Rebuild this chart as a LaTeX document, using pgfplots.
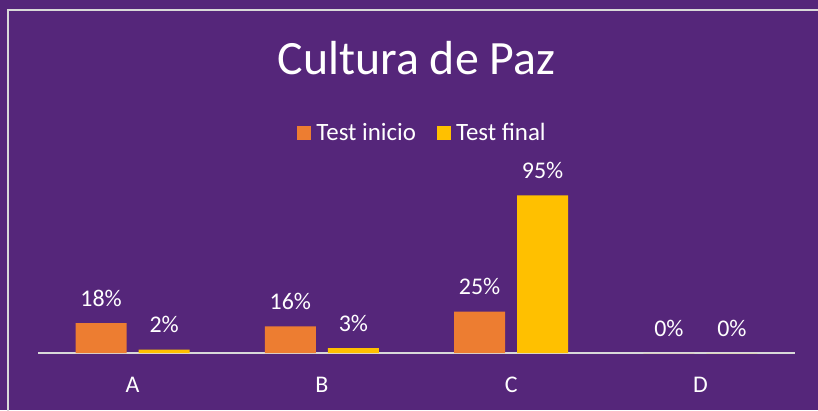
\documentclass[border=0pt]{standalone}
\usepackage{pgfplots}
\pgfplotsset{compat=1.18}
\usepackage{fontspec}
\setmainfont{Carlito}
\definecolor{bgpurple}{RGB}{85,38,122}
\definecolor{barorange}{RGB}{237,125,49}
\definecolor{baryellow}{RGB}{255,192,0}
\definecolor{linegray}{RGB}{217,217,217}
\begin{document}
\begin{tikzpicture}[x=1bp,y=1bp]
\useasboundingbox (0,0) rectangle (818,410);
\fill[bgpurple] (0,0) rectangle (818,410);
\draw[linegray,line width=2bp] (8,-2) -- (8,400) -- (820,400);
\begin{axis}[
  at={(38bp,57bp)}, anchor=south west,
  scale only axis, width=757bp, height=166bp,
  xmin=-0.5, xmax=3.5, ymin=0, ymax=100,
  axis x line*=bottom, axis y line=none,
  x axis line style={linegray, line width=1.5bp, -},
  xtick={0,1,2,3}, xticklabels={A,B,C,D},
  major tick length=0pt,
  xticklabel style={font=\fontsize{24}{26}\selectfont, text=white, anchor=base, yshift=-39bp},
  ybar=12bp, bar width=51bp,
  /pgf/number format/assume math mode=true,
  nodes near coords={\pgfmathprintnumber{\pgfplotspointmeta}\%},
  every node near coord/.append style={font=\fontsize{24}{26}\selectfont, text=white, anchor=base, inner sep=0pt, yshift=17bp},
  title={Cultura de Paz},
  title style={at={(0.5,1.74)}, anchor=center, font=\fontsize{48}{52}\selectfont, text=white},
  legend columns=2,
  legend style={at={(0.51,1.325)}, anchor=center, draw=none, fill=none,
    font=\fontsize{25}{27}\selectfont, text=white,
    /tikz/every even column/.append style={column sep=16bp},
    nodes={inner xsep=5bp}},
  legend image code/.code={\fill[#1] (0bp,-7bp) rectangle (14bp,7bp);},
]
\addplot[fill=barorange, draw=none] coordinates {(0,18) (1,16) (2,25) (3,0)};
\addplot[fill=baryellow, draw=none] coordinates {(0,2) (1,3) (2,95) (3,0)};
\legend{Test inicio, Test final}
\end{axis}
\end{tikzpicture}
\end{document}
